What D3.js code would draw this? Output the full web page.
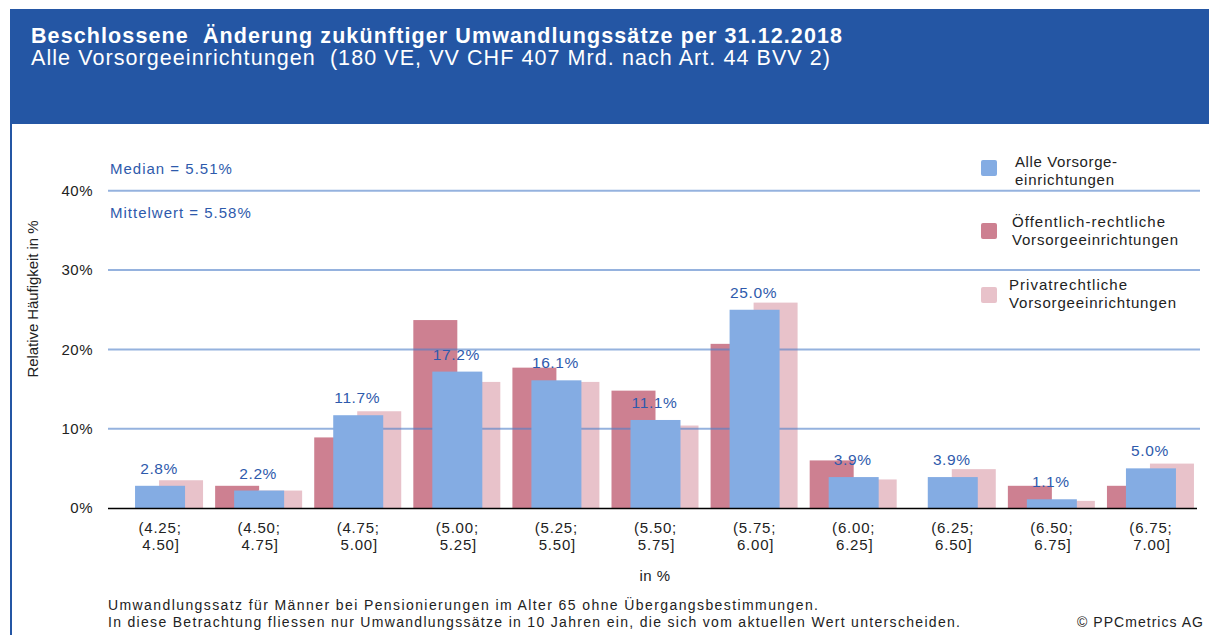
<!DOCTYPE html>
<html><head><meta charset="utf-8">
<script src="https://cdn.jsdelivr.net/npm/d3@7"></script>
<style>body{margin:0;background:#fff}svg{display:block;font-family:"Liberation Sans",Arial,sans-serif}</style>
</head><body><svg id="c" width="1209" height="635"></svg>
<script>
const categories = [["(4.25;","4.50]"],["(4.50;","4.75]"],["(4.75;","5.00]"],["(5.00;","5.25]"],["(5.25;","5.50]"],["(5.50;","5.75]"],["(5.75;","6.00]"],["(6.00;","6.25]"],["(6.25;","6.50]"],["(6.50;","6.75]"],["(6.75;","7.00]"]];
const alleValues = [2.8, 2.2, 11.7, 17.2, 16.1, 11.1, 25.0, 3.9, 3.9, 1.1, 5.0];
const oeffentlichValues = [0, 2.8, 8.9, 23.7, 17.7, 14.8, 20.7, 6.0, 0, 2.8, 2.8];
const privatValues = [3.5, 2.2, 12.2, 15.9, 15.9, 10.4, 25.9, 3.6, 4.9, 0.9, 5.6];
const yTicks = [0, 10, 20, 30, 40];
const legendItems = [
  {lines:["Alle Vorsorge-","einrichtungen"], color:"#84ACE3"},
  {lines:["Öffentlich-rechtliche","Vorsorgeeinrichtungen"], color:"#CD8091"},
  {lines:["Privatrechtliche","Vorsorgeeinrichtungen"], color:"#E8C2CA"}
];
const title = "Beschlossene  Änderung zukünftiger Umwandlungssätze per 31.12.2018";
const subtitle = "Alle Vorsorgeeinrichtungen  (180 VE, VV CHF 407 Mrd. nach Art. 44 BVV 2)";
const medianText = "Median = 5.51%";
const meanText = "Mittelwert = 5.58%";
const footer = ["Umwandlungssatz für Männer bei Pensionierungen im Alter 65 ohne Übergangsbestimmungen.",
  "In diese Betrachtung fliessen nur Umwandlungssätze in 10 Jahren ein, die sich vom aktuellen Wert unterscheiden."];
const copyright = "© PPCmetrics AG";

const svg = d3.select("#c");
const fit = (sel, w) => sel.attr("textLength", w).attr("lengthAdjust", "spacing");
const blue = "#2456A4";
svg.append("rect").attr("x",10).attr("y",9).attr("width",1199).attr("height",115).attr("fill",blue);
svg.append("rect").attr("x",10).attr("y",124).attr("width",2).attr("height",511).attr("fill",blue);
fit(svg.append("text").attr("x",31).attr("y",42.5).attr("fill","#fff").attr("font-weight","bold").attr("font-size",21.5).attr("xml:space","preserve").text(title), 811);
fit(svg.append("text").attr("x",31).attr("y",65).attr("fill","#fff").attr("font-size",21.5).attr("xml:space","preserve").text(subtitle), 799);

const x0 = 110.5, x1 = 1200.5;
const x = d3.scaleBand().domain(d3.range(categories.length)).range([x0, x1]);
const y = d3.scaleLinear().domain([0, 40]).range([508, 190.8]);
const bw = x.bandwidth();
const cx = i => x(i) + bw/2;

const g = svg.append("g");
g.selectAll(".r").data(oeffentlichValues).join("rect")
  .attr("x",(d,i)=>cx(i)-44).attr("width",44).attr("y",d=>y(d)).attr("height",d=>y(0)-y(d)).attr("fill","#CD8091");
g.selectAll(".p").data(privatValues).join("rect")
  .attr("x",(d,i)=>cx(i)-1).attr("width",44).attr("y",d=>y(d)).attr("height",d=>y(0)-y(d)).attr("fill","#E8C2CA");
g.selectAll(".gl").data(yTicks.filter(t=>t>0)).join("line")
  .attr("x1",108).attr("x2",1200).attr("y1",d=>y(d)).attr("y2",d=>y(d))
  .attr("stroke","#4F7FC8").attr("stroke-opacity",0.6).attr("stroke-width",2);
g.selectAll(".b").data(alleValues).join("rect")
  .attr("x",(d,i)=>cx(i)-25).attr("width",50).attr("y",d=>y(d)).attr("height",d=>y(0)-y(d)).attr("fill","#84ACE3");
g.selectAll(".lb").data(alleValues).join("text")
  .attr("x",(d,i)=>cx(i)-1).attr("y",d=>y(d)-12).attr("text-anchor","middle")
  .attr("font-size",15.5).attr("letter-spacing",0.6).attr("fill","#2E5AAC").text(d=>d.toFixed(1)+"%");
g.append("line").attr("x1",108).attr("x2",1197).attr("y1",y(0)+0.5).attr("y2",y(0)+0.5).attr("stroke","#000").attr("stroke-width",1.5);

const ya = svg.append("g").attr("transform","translate(102,0)")
  .call(d3.axisLeft(y).tickValues(yTicks).tickFormat(d=>d+"%").tickSize(0).tickPadding(9));
ya.select(".domain").remove();
ya.selectAll("text").attr("font-size",15).attr("letter-spacing",0.5).attr("fill","#222").attr("font-family","Liberation Sans, Arial, sans-serif");

fit(svg.append("text").attr("transform","translate(38,299) rotate(-90)").attr("text-anchor","middle")
  .attr("font-size",15).attr("fill","#222").text("Relative Häufigkeit in %"), 157);

const xl = svg.append("g").selectAll("text").data(categories).join("text")
  .attr("text-anchor","middle").attr("font-size",15).attr("letter-spacing",0.8).attr("fill","#222");
xl.append("tspan").attr("x",(d,i)=>cx(i)).attr("y",533).text(d=>d[0]);
xl.append("tspan").attr("x",(d,i)=>cx(i)+1).attr("y",550).text(d=>d[1]);
svg.append("text").attr("x",655).attr("y",581).attr("text-anchor","middle").attr("font-size",15).attr("letter-spacing",0.5).attr("fill","#222").text("in %");

svg.append("text").attr("x",110).attr("y",174).attr("font-size",15).attr("letter-spacing",1).attr("fill","#2E5AAC").text(medianText);
svg.append("text").attr("x",110).attr("y",218).attr("font-size",15).attr("letter-spacing",1).attr("fill","#2E5AAC").text(meanText);

const legY = [160, 223, 287];
const legTx = [1015, 1012, 1009];
const legBase = [167, 227, 290];
const legW = [[102, 99], [153, 166], [118, 167]];
legendItems.forEach((it, k) => {
  svg.append("rect").attr("x",981).attr("y",legY[k]).attr("width",16).attr("height",16).attr("rx",2).attr("fill",it.color);
  it.lines.forEach((ln, j) => {
    fit(svg.append("text").attr("x",legTx[k]).attr("y",legBase[k]+j*17.5).attr("font-size",15).attr("fill","#222").text(ln), legW[k][j]);
  });
});

const footW = [710, 852];
footer.forEach((f, j) => {
  fit(svg.append("text").attr("x",108).attr("y",610+j*16.5).attr("font-size",14).attr("fill","#222").text(f), footW[j]);
});
fit(svg.append("text").attr("x",1077).attr("y",627).attr("font-size",14).attr("fill","#222").text(copyright), 126);
</script></body></html>
